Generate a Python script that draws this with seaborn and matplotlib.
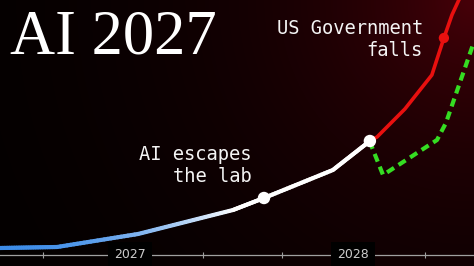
import numpy as np
import pandas as pd
import matplotlib
matplotlib.use("Agg")
import matplotlib.pyplot as plt
from matplotlib.collections import LineCollection
import seaborn as sns

# ---------------- data ----------------
# timeline in fractional years, "capability" in arbitrary units
main_year = [2026.417, 2026.673, 2027.036, 2027.462, 2027.601, 2027.910, 2028.076]
main_value = [18, 19, 32, 56, 68, 96, 125]

race_year = [2028.076, 2028.108, 2028.233, 2028.354, 2028.408, 2028.444, 2028.475, 2028.490]
race_value = [125, 129, 157, 191, 228, 251, 266, 274]

slow_year = [2028.076, 2028.085, 2028.135, 2028.377, 2028.417, 2028.538]
slow_value = [125, 119, 91, 126, 143, 221]

event_year = [2027.601, 2028.076]
event_value = [68, 125]
fall_year = [2028.408]
fall_value = [228]

tick_years = [2026.610, 2027.327, 2027.682, 2028.323]
year_labels = ["2027", "2028"]
year_label_pos = [2027.0, 2028.0]

title = "AI 2027"
note_lab = "AI escapes\nthe lab"
note_gov = "US Government\nfalls"

# ---------------- style ----------------
sns.set_style("dark", {"axes.facecolor": "black", "figure.facecolor": "black"})
plt.rcParams["font.family"] = ["DejaVu Sans"]

fig = plt.figure(figsize=(4.74, 2.66), dpi=100)
ax = fig.add_axes([0, 0, 1, 1])
ax.set_xlim(2026.417, 2028.543)
ax.set_ylim(0, 266)

# background: dark red glow from the top right corner
nx, ny = 474, 266
u = np.linspace(0, 1, nx)
v = np.linspace(0, 1, ny)
U, V = np.meshgrid(u, v)
d = np.sqrt(((1 - U) * 474) ** 2 + ((1 - V) * 266) ** 2)
I = 0.28 * np.exp(-d / 185.0)
img = np.dstack([I, I * 0.0, I * 0.12])
ax.imshow(img, origin="lower", extent=[0, 1, 0, 1], transform=ax.transAxes,
          aspect="auto", zorder=0, interpolation="bilinear")

# axis line with ticks
for s in ["top", "left", "right"]:
    ax.spines[s].set_visible(False)
ax.spines["bottom"].set_position(("data", 11))
ax.spines["bottom"].set_color("#a0a0a0")
ax.spines["bottom"].set_linewidth(0.9)
ax.spines["bottom"].set_zorder(1)
ax.set_yticks([])
ax.set_xticks([])
ax.set_xticks(tick_years, minor=True)
ax.tick_params(axis="x", which="minor", direction="inout", length=4, width=0.8,
               color="#a0a0a0", bottom=True)
ax.grid(False)
for xp, lab in zip(year_label_pos, year_labels):
    ax.text(xp, 11, lab, ha="center", va="center", color="#cccccc", fontsize=9,
            zorder=2, bbox=dict(facecolor="black", edgecolor="none", pad=4.5))

# main line with blue->white gradient
mx = np.asarray(main_year)
my = np.asarray(main_value, dtype=float)
segs, cols = [], []
blue = np.array([0.24, 0.55, 0.91])
white = np.array([1.0, 1.0, 1.0])
x_white = 2027.47
for i in range(len(mx) - 1):
    xs = np.linspace(mx[i], mx[i + 1], 25)
    ys = np.linspace(my[i], my[i + 1], 25)
    for j in range(len(xs) - 1):
        segs.append([(xs[j], ys[j]), (xs[j + 1], ys[j + 1])])
        t = np.clip((xs[j] - mx[0]) / (x_white - mx[0]), 0, 1) ** 2.0
        cols.append(tuple(blue * (1 - t) + white * t))
lc = LineCollection(segs, colors=cols, linewidths=3.0, capstyle="round",
                    joinstyle="round", zorder=4)
ax.add_collection(lc)

race = pd.DataFrame({"year": race_year, "value": race_value})
slow = pd.DataFrame({"year": slow_year, "value": slow_value})
sns.lineplot(data=slow, x="year", y="value", ax=ax, color="#35dd22", linewidth=3.0,
             sort=False, dashes=False, zorder=3, linestyle=(0, (2.0, 1.3)))
sns.lineplot(data=race, x="year", y="value", ax=ax, color="#e8100f", linewidth=2.6,
             sort=False, zorder=3)

sns.scatterplot(x=event_year, y=event_value, ax=ax, color="white", s=80,
                edgecolor="none", zorder=6)
sns.scatterplot(x=fall_year, y=fall_value, ax=ax, color="#e8100f", s=55,
                edgecolor="none", zorder=6)

ax.set_xlabel("")
ax.set_ylabel("")

# texts
ax.text(10 / 474, 1 - 53 / 266, title, transform=ax.transAxes, ha="left",
        va="baseline", color="white", fontsize=45, family="Liberation Serif", zorder=7)
ax.text(252 / 474, 1 - 166 / 266, note_lab, transform=ax.transAxes, ha="right",
        va="center", color="#f4f4f4", fontsize=13.5, family="DejaVu Sans Mono",
        linespacing=1.2, zorder=7)
ax.text(423 / 474, 1 - 40 / 266, note_gov, transform=ax.transAxes, ha="right",
        va="center", color="#f4f4f4", fontsize=13.5, family="DejaVu Sans Mono",
        linespacing=1.2, zorder=7)

fig.savefig("out.png", dpi=100, facecolor="black")
